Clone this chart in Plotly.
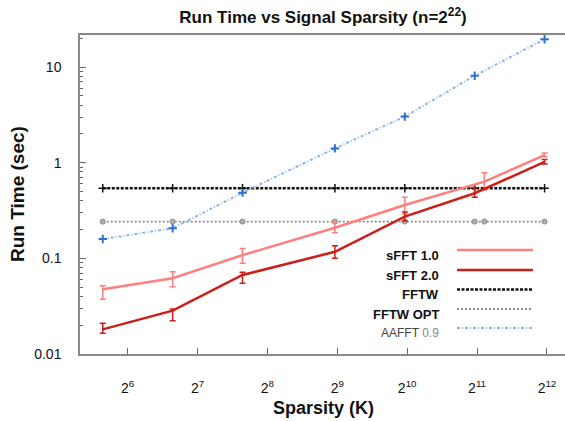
import plotly.graph_objects as go

# ---- data ----
k_sfft1 = [50, 100, 200, 500, 1000, 2200, 4000]
t_sfft1 = [0.0475, 0.0619, 0.108, 0.209, 0.361, 0.633, 1.20]
e_sfft1_plus = [0.0043, 0.0107, 0.019, 0.027, 0.074, 0.153, 0.06]
e_sfft1_minus = [0.0101, 0.0113, 0.019, 0.024, 0.070, 0.114, 0.05]

k_sfft2 = [50, 100, 200, 500, 1000, 2000, 4000]
t_sfft2 = [0.0181, 0.0284, 0.067, 0.117, 0.273, 0.479, 1.02]
e_sfft2_plus = [0.0028, 0.0012, 0.0045, 0.018, 0.032, 0.07, 0.06]
e_sfft2_minus = [0.0016, 0.0061, 0.0122, 0.017, 0.027, 0.044, 0.05]

k_fftw = [50, 100, 200, 500, 1000, 2000, 4000]
t_fftw = [0.54, 0.54, 0.54, 0.54, 0.54, 0.54, 0.54]

k_fftw_opt = [50, 100, 200, 500, 1000, 2000, 2200, 4000]
t_fftw_opt = [0.242, 0.242, 0.242, 0.242, 0.242, 0.242, 0.242, 0.242]

k_aafft = [50, 100, 200, 500, 1000, 2000, 4000]
t_aafft = [0.159, 0.206, 0.486, 1.41, 3.03, 8.11, 19.5]

x_tickvals = [64, 128, 256, 512, 1024, 2048, 4096]
x_ticktext = ["2<sup>6</sup>", "2<sup>7</sup>", "2<sup>8</sup>", "2<sup>9</sup>",
              "2<sup>10</sup>", "2<sup>11</sup>", "2<sup>12</sup>"]
y_tickvals = [0.01, 0.1, 1, 10]
y_ticktext = ["0.01", "0.1", "1", "10"]
y_minor = [m * 10 ** d for d in range(-2, 2) for m in range(2, 10)]

legend_labels = ["sFFT 1.0", "sFFT 2.0", "FFTW", "FFTW OPT", "AAFFT 0.9"]

# ---- styles ----
C1 = "#ff7f7f"
C2 = "#cc1f1a"
CF = "#111111"
CFO = "#8a8a8a"
CA = "#8db4ea"
CAM = "#2f6fcf"
DASH_F = "3px,1.5px"
DASH_FO = "2px,2px"
DASH_A = "3px,2px,1px,2px"

fig = go.Figure()

fig.add_trace(go.Scatter(
    x=k_fftw_opt, y=t_fftw_opt, mode="lines+markers",
    line=dict(color=CFO, width=1.8, dash=DASH_FO),
    marker=dict(symbol="circle", size=5, color="#b0b0b0", line=dict(color=CFO, width=1)),
    showlegend=False))
fig.add_trace(go.Scatter(
    x=k_fftw, y=t_fftw, mode="lines+markers",
    line=dict(color=CF, width=2.5, dash=DASH_F),
    marker=dict(symbol="cross-thin", size=6, line=dict(color=CF, width=1.5)),
    showlegend=False))
fig.add_trace(go.Scatter(
    x=k_aafft, y=t_aafft, mode="lines+markers",
    line=dict(color=CA, width=2, dash=DASH_A),
    marker=dict(symbol="cross-thin", size=6, line=dict(color=CAM, width=2)),
    showlegend=False))
fig.add_trace(go.Scatter(
    x=k_sfft1, y=t_sfft1, mode="lines",
    line=dict(color=C1, width=2.5),
    error_y=dict(type="data", symmetric=False, array=e_sfft1_plus,
                 arrayminus=e_sfft1_minus, color=C1, thickness=1.5, width=3),
    showlegend=False))
fig.add_trace(go.Scatter(
    x=k_sfft2, y=t_sfft2, mode="lines",
    line=dict(color=C2, width=2.5),
    error_y=dict(type="data", symmetric=False, array=e_sfft2_plus,
                 arrayminus=e_sfft2_minus, color=C2, thickness=1.5, width=3),
    showlegend=False))

# ---- manual legend (labels left, samples right) ----
W, H = 565, 421
L, R, T, B = 80, 0, 35, 67
pw, ph = W - L - R, H - T - B

def px(x):
    return (x - L) / pw

def py(y):
    return (H - B - y) / ph

leg_styles = [
    dict(color=C1, width=2.5, dash="solid"),
    dict(color=C2, width=2.5, dash="solid"),
    dict(color=CF, width=2.5, dash=DASH_F),
    dict(color=CFO, width=1.8, dash=DASH_FO),
    dict(color=CA, width=2, dash=DASH_A),
]
leg_line_y = [250, 270, 289.5, 309, 328]
shapes = []
annotations = []
for i, lab in enumerate(legend_labels):
    yl = leg_line_y[i]
    shapes.append(dict(type="line", xref="paper", yref="paper",
                       x0=px(457), x1=px(533), y0=py(yl), y1=py(yl),
                       line=leg_styles[i]))
    if lab.startswith("AAFFT"):
        txt = "AAFFT <span style='color:#888'>0.9</span>"
        fnt = dict(family="Liberation Sans, Arial", size=12, color="#444")
    else:
        txt = "<b>" + lab + "</b>"
        fnt = dict(family="Liberation Sans, Arial", size=13, color="#111")
    annotations.append(dict(xref="paper", yref="paper", x=px(441), y=py(yl + 5),
                            text=txt, showarrow=False, xanchor="right",
                            yanchor="middle", font=fnt))

# axis titles
annotations.append(dict(xref="paper", yref="paper", x=px(323), y=py(408),
                        text="<b>Sparsity (K)</b>", showarrow=False,
                        xanchor="center", yanchor="middle",
                        font=dict(family="Liberation Sans, Arial", size=18, color="#111")))
annotations.append(dict(xref="paper", yref="paper", x=px(17), y=py(194),
                        text="<b>Run Time (sec)</b>", showarrow=False, textangle=-90,
                        xanchor="center", yanchor="middle",
                        font=dict(family="Liberation Sans, Arial", size=19, color="#111")))

fig.update_layout(
    width=W, height=H,
    margin=dict(l=L, r=R, t=T, b=B, autoexpand=False),
    paper_bgcolor="white", plot_bgcolor="white",
    font=dict(family="Liberation Sans, Arial", color="#111"),
    title=dict(text="<b>Run Time vs Signal Sparsity (n=2<sup>22</sup>)</b>",
               x=px(323), xref="paper", xanchor="center", y=1 - 17 / H, yanchor="middle",
               font=dict(size=17, color="#111")),
    xaxis=dict(type="log", range=[1.601, 3.690], automargin=False,
               tickvals=x_tickvals, ticktext=x_ticktext,
               ticks="inside", ticklen=6, tickwidth=1, tickcolor="#666",
               showline=True, linecolor="#888", linewidth=1.5, mirror=True,
               showgrid=False, zeroline=False,
               ticklabelstandoff=20, ticklabeloverflow="allow",
               tickfont=dict(size=14, color="#111")),
    yaxis=dict(type="log", range=[-2, 1.3345], automargin=False,
               tickvals=y_tickvals, ticktext=y_ticktext,
               ticks="inside", ticklen=6, tickwidth=1, tickcolor="#666",
               minor=dict(tickvals=y_minor, ticks="inside", ticklen=3,
                          tickcolor="#666", showgrid=False),
               showline=True, linecolor="#888", linewidth=1.5, mirror=False,
               showgrid=False, zeroline=False,
               ticklabelstandoff=14,
               tickfont=dict(size=14, color="#111")),
    shapes=shapes,
    annotations=annotations,
)

fig.write_html("out.html",
               config={"displayModeBar": False},
               post_script="document.body.style.margin='0';document.body.style.overflow='hidden';")
